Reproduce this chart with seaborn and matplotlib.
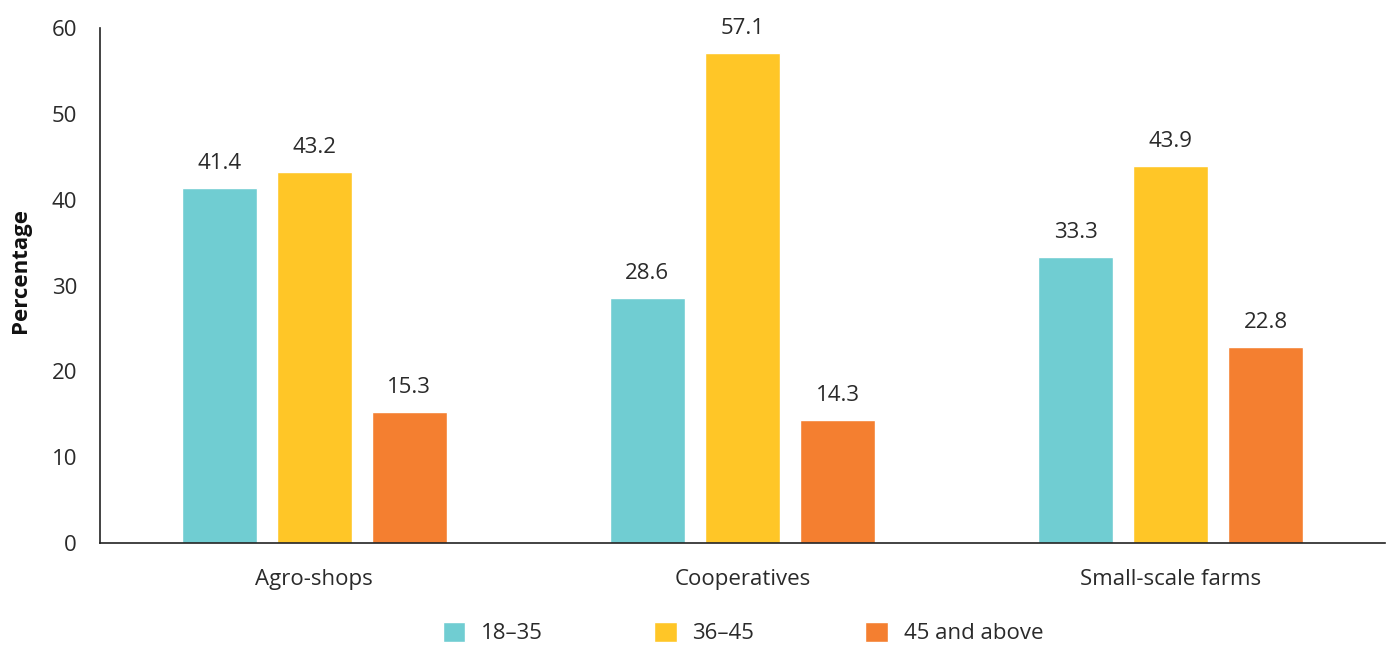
import matplotlib
matplotlib.use("Agg")
import matplotlib.pyplot as plt
import seaborn as sns
import pandas as pd

categories = ["Agro-shops", "Cooperatives", "Small-scale farms"]
groups = ["18\u201335", "36\u201345", "45 and above"]
values_18_35 = [41.4, 28.6, 33.3]
values_36_45 = [43.2, 57.1, 43.9]
values_45_up = [15.3, 14.3, 22.8]
colors = ["#70CDD2", "#FFC627", "#F47F30"]

rows = []
for g, vals in zip(groups, [values_18_35, values_36_45, values_45_up]):
    for c, v in zip(categories, vals):
        rows.append({"Category": c, "Group": g, "Value": v})
df = pd.DataFrame(rows)

sns.set_theme(style="white")
plt.rcParams['font.family'] = ['Open Sans', 'DejaVu Sans']

FS = 16
TXT = "#2a2a2a"

fig = plt.figure(figsize=(13.91, 6.48), dpi=100)
ax = fig.add_axes([100/1391, 1 - 543/648, 1285/1391, 515/648])

sns.barplot(data=df, x="Category", y="Value", hue="Group", order=categories,
            hue_order=groups, palette=colors, width=0.666, gap=0.21,
            saturation=1, ax=ax, legend=True)

for cont in ax.containers:
    ax.bar_label(cont, fmt="%.1f", padding=10, fontsize=FS, color=TXT)

ax.set_ylim(0, 60)
ax.set_xlim(-0.5, 2.5)
ax.set_yticks(range(0, 61, 10))
ax.tick_params(axis="both", length=0, labelsize=FS, colors=TXT)
ax.tick_params(axis="x", pad=18.5)
ax.tick_params(axis="y", pad=16.5)
ax.set_xlabel("")
ax.set_ylabel("Percentage", fontsize=FS, fontweight="bold", color="#111111")
ax.yaxis.set_label_coords(-69/1285, 0.53)

for s in ["top", "right"]:
    ax.spines[s].set_visible(False)
for s in ["left", "bottom"]:
    ax.spines[s].set_color("#222222")
    ax.spines[s].set_linewidth(1.2)

handles, labels = ax.get_legend_handles_labels()
ax.legend(handles, labels, loc="center", bbox_to_anchor=(743/1391, 1 - 633/648),
          bbox_transform=fig.transFigure, ncol=3, frameon=False, fontsize=FS,
          handlelength=1.03, handleheight=1.0, columnspacing=5.0, handletextpad=0.7,
          labelcolor=TXT)

fig.savefig("out.png", dpi=100)
